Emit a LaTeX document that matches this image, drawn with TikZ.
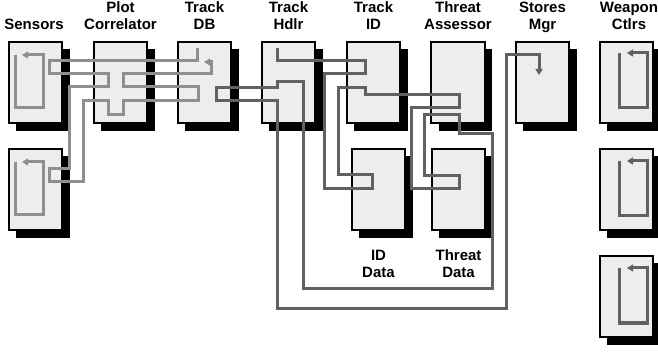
\documentclass[tikz,border=0pt]{standalone}
\usepackage{fontspec}
\setmainfont{Liberation Sans}
\usetikzlibrary{arrows.meta,shadows}

\definecolor{boxfill}{gray}{0.93}
\definecolor{thrlight}{gray}{0.56}
\definecolor{thrdark}{gray}{0.38}

\begin{document}
\begin{tikzpicture}[x=1pt,y=-1pt,line join=miter,
    obj/.style={draw=black,line width=1.6pt,fill=boxfill,inner sep=0pt,
      minimum width=53.5pt,minimum height=81.5pt,
      drop shadow={shadow xshift=7.5pt,shadow yshift=-7.5pt,opacity=1,fill=black}},
    lbl/.style={font=\bfseries\fontsize{15}{17}\selectfont,align=center,
      anchor=base,inner sep=0pt},
    thin thread/.style={line width=3pt,draw=thrlight},
    dark thread/.style={line width=3pt,draw=thrdark},
    tip/.style={-{Triangle[length=6pt,width=7pt]}}]

  \useasboundingbox (0,0) rectangle (658,352);

  % ---- oggetti: riga in alto ------------------------------------------------
  \node[obj] (sens1)      at ( 35.5, 82.5) {};
  \node[obj] (plotcorr)   at (120.5, 82.5) {};
  \node[obj] (trackdb)    at (204.5, 82.5) {};
  \node[obj] (trackhdlr)  at (288.5, 82.5) {};
  \node[obj] (trackid)    at (373.5, 82.5) {};
  \node[obj] (threatass)  at (458.0, 82.5) {};
  \node[obj] (storesmgr)  at (542.5, 82.5) {};
  \node[obj] (weap1)      at (626.5, 82.5) {};

  % ---- oggetti: righe sotto -------------------------------------------------
  \node[obj] (sens2)      at ( 35.5,189.5) {};
  \node[obj] (iddata)     at (378.5,189.5) {};
  \node[obj] (threatdata) at (458.5,189.5) {};
  \node[obj] (weap2)      at (626.5,189.5) {};
  \node[obj] (weap3)      at (626.5,296.5) {};

  % ---- etichette ------------------------------------------------------------
  \node[lbl] (lsens)      at ( 34.0,30) {Sensors};
  \node[lbl] (lplotcorr)  at (120.5,30) {Plot\\Correlator};
  \node[lbl] (ltrackdb)   at (204.5,30) {Track\\DB};
  \node[lbl] (ltrackhdlr) at (288.5,30) {Track\\Hdlr};
  \node[lbl] (ltrackid)   at (373.5,30) {Track\\ID};
  \node[lbl] (lthreatass) at (458.0,30) {Threat\\Assessor};
  \node[lbl] (lstoresmgr) at (542.5,30) {Stores\\Mgr};
  \node[lbl] (lweap)      at (629.0,30) {Weapon\\Ctlrs};
  \node[lbl] (liddata)    at (378.5,278) {ID\\Data};
  \node[lbl] (lthreatdata) at (458.5,278) {Threat\\Data};

  % ---- cicli interni ai sensori e ai controllori d'arma ---------------------
  \draw[thin thread,tip] (15, 55) -- (15,108) -- (43,108) -- (43, 55) -- (22, 55);
  \draw[thin thread,tip] (15,162) -- (15,215) -- (43,215) -- (43,162) -- (22,162);
  \draw[dark thread,tip] (619, 53) -- (619,108) -- (647,108) -- (647, 53) -- (627, 53);
  \draw[dark thread,tip] (619,161) -- (619,216) -- (647,216) -- (647,161) -- (627,161);
  \draw[dark thread,tip] (619,268) -- (619,323) -- (647,323) -- (647,268) -- (627,268);

  % ---- thread della Track DB (grigio chiaro) --------------------------------
  \draw[thin thread,tip] (197,48) -- (197,61) -- (49,61) -- (49,74) -- (108,74)
    -- (108,87) -- (69,87) -- (69,169) -- (49,169) -- (49,182) -- (83,182)
    -- (83,101) -- (108,101) -- (108,115) -- (123,115) -- (123,101)
    -- (198,101) -- (198,87) -- (123,87) -- (123,74) -- (211,74) -- (211,62)
    -- (204,62);

  % ---- thread del Track Hdlr (grigio scuro) ---------------------------------
  \draw[dark thread,tip] (277,48) -- (277,61) -- (365,61) -- (365,74) -- (324,74)
    -- (324,189) -- (372,189) -- (372,175) -- (338,175) -- (338,88) -- (365,88)
    -- (365,95) -- (459,95) -- (459,108) -- (411,108) -- (411,189) -- (459,189)
    -- (459,176) -- (424,176) -- (424,115) -- (459,115) -- (459,134)
    -- (492,134) -- (492,289) -- (303,289) -- (303,82) -- (277,82) -- (277,88)
    -- (216,88) -- (216,101) -- (277,101) -- (277,309) -- (506,309)
    -- (506,55) -- (539,55) -- (539,75);

\end{tikzpicture}
\end{document}
